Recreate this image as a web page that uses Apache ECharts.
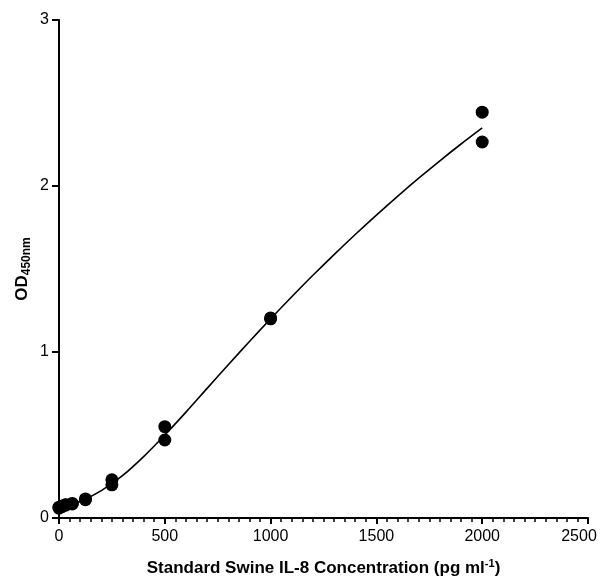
<!DOCTYPE html>
<html><head><meta charset="utf-8">
<script src="https://cdn.jsdelivr.net/npm/echarts@6/dist/echarts.min.js"></script>
<style>html,body{margin:0;padding:0;background:#fff}#c{width:608px;height:577px}</style>
</head><body><div id="c"></div>
<script>
const concentrations = [0, 0, 15.6, 15.6, 31.25, 31.25, 62.5, 62.5, 125, 125, 250, 250, 500, 500, 1000, 1000, 2000, 2000];
const odValues = [0.06, 0.065, 0.07, 0.072, 0.078, 0.08, 0.085, 0.088, 0.11, 0.115, 0.20, 0.23, 0.47, 0.55, 1.20, 1.205, 2.265, 2.445];
const fitX = [0, 100, 200, 300, 400, 500, 600, 700, 800, 900, 1000, 1100, 1200, 1300, 1400, 1500, 1600, 1700, 1800, 1900, 2000];
const fitY = [0.06, 0.10, 0.165, 0.255, 0.37, 0.50, 0.638, 0.781, 0.923, 1.063, 1.20, 1.333, 1.462, 1.587, 1.708, 1.825, 1.938, 2.047, 2.152, 2.253, 2.35];
const xTicks = [0, 500, 1000, 1500, 2000, 2500];
const yTicks = [0, 1, 2, 3];

const font = 'Liberation Sans, Arial, Helvetica, sans-serif';
const chart = echarts.init(document.getElementById('c'));
chart.setOption({
  animation: false,
  grid: {left: 59, right: 20, top: 20, bottom: 59, containLabel: false, outerBoundsMode: 'none'},
  xAxis: {
    type: 'value', min: xTicks[0], max: xTicks[xTicks.length-1], interval: 500,
    name: '{b|Standard Swine IL-8 Concentration (pg ml}{sup|-1}{b|)}',
    nameLocation: 'middle', nameGap: 40,
    nameTextStyle: {rich: {
      b: {fontFamily: font, fontWeight: 'bold', fontSize: 17, color: '#000'},
      sup: {fontFamily: font, fontWeight: 'bold', fontSize: 11, color: '#000', padding: [0,0,9,0]}
    }},
    axisLine: {show: true, lineStyle: {color: '#000', width: 2}},
    axisTick: {show: true, length: 6, lineStyle: {color: '#000', width: 2}},
    minorTick: {show: true, splitNumber: 10, length: 4, lineStyle: {color: '#000', width: 1.5}},
    axisLabel: {color: '#000', fontFamily: font, fontSize: 16, margin: 11,
      formatter: v => v === xTicks[xTicks.length-1] ? '{last|' + v + '}' : String(v),
      rich: {last: {fontFamily: font, fontSize: 16, color: '#000', padding: [0, 18, 0, 0]}}},
    splitLine: {show: false}
  },
  yAxis: {
    type: 'value', min: yTicks[0], max: yTicks[yTicks.length-1], interval: 1,
    name: '{b|OD}{sub|450nm}',
    nameLocation: 'middle', nameGap: 26, nameRotate: 90, nameMoveOverlap: false,
    nameTextStyle: {rich: {
      b: {fontFamily: font, fontWeight: 'bold', fontSize: 17, color: '#000'},
      sub: {fontFamily: font, fontWeight: 'bold', fontSize: 12, color: '#000', padding: [9,0,0,0]}
    }},
    axisLine: {show: true, lineStyle: {color: '#000', width: 2}},
    axisTick: {show: true, length: 7, lineStyle: {color: '#000', width: 2}},
    axisLabel: {color: '#000', fontFamily: font, fontSize: 16, margin: 10, formatter: v => String(v)},
    splitLine: {show: false}
  },
  series: [
    {type: 'line', data: fitX.map((x, i) => [x, fitY[i]]), smooth: 0.3, showSymbol: false,
     lineStyle: {color: '#000', width: 1.6}, z: 2},
    {type: 'scatter', data: concentrations.map((x, i) => [x, odValues[i]]), symbolSize: 13,
     itemStyle: {color: '#000', opacity: 1}, z: 3}
  ]
});
</script></body></html>
